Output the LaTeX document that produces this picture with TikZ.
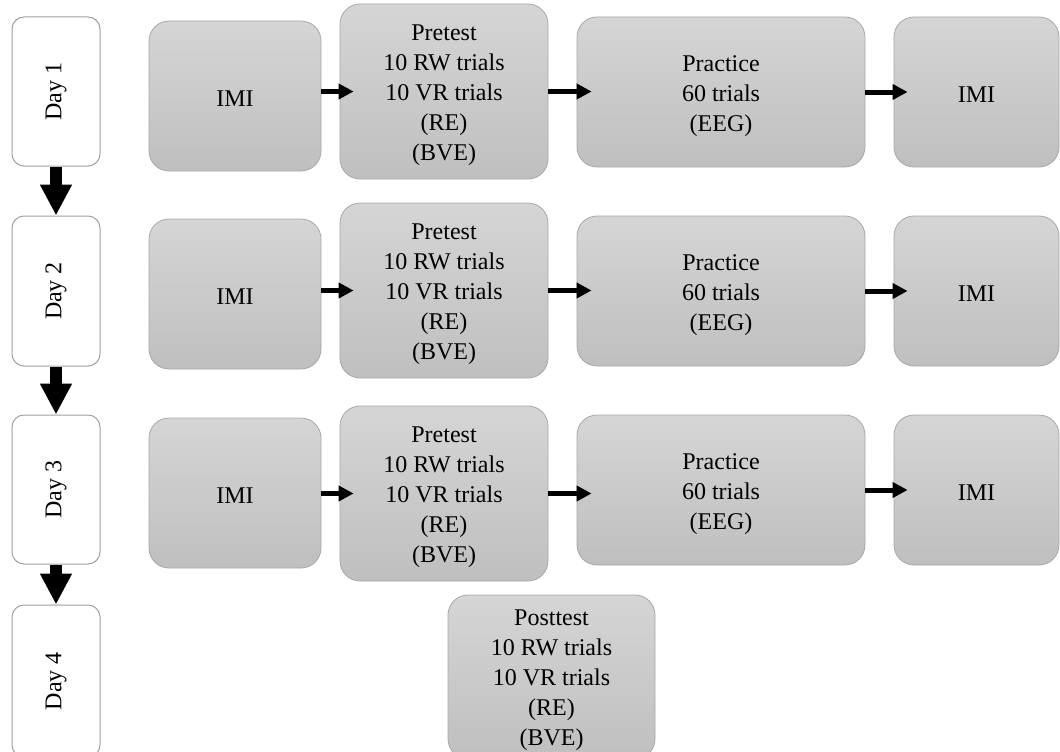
\documentclass[tikz,border=0pt]{standalone}
\usepackage{fontspec}
\setmainfont{Liberation Serif}
\usetikzlibrary{arrows.meta,calc}
\definecolor{boxtop}{RGB}{213,213,213}
\definecolor{boxbot}{RGB}{191,191,191}
\definecolor{boxedge}{RGB}{168,168,168}
\definecolor{dayedge}{RGB}{160,160,160}
\newcommand{\myup}[1]{\rule{0pt}{#1}}
\begin{document}
\begin{tikzpicture}[x=1pt,y=-1pt,
  every node/.style={font=\fontsize{24}{30}\selectfont, align=center, text=black, inner sep=0pt},
  daybox/.style={draw=dayedge, line width=1pt, fill=white, rounded corners=12pt, minimum width=88pt},
  stepbox/.style={draw=boxedge, line width=0.8pt, top color=boxtop, bottom color=boxbot, rounded corners=20pt},
  bigarrow/.style={line width=12pt, -{Triangle[width=30pt,length=31pt]}},
  smallarrow/.style={line width=5pt, -{Triangle[width=15pt,length=15pt]}}
]
\useasboundingbox (0,0) rectangle (1060,752);
\clip (0,0) rectangle (1060,752);

% Day column
\node[daybox, minimum height=149pt] (day1) at (56,91.5) {\rotatebox{90}{Day 1}};
\node[daybox, minimum height=150pt] (day2) at (56,291) {\rotatebox{90}{Day 2}};
\node[daybox, minimum height=149pt] (day3) at (56,489.5) {\rotatebox{90}{Day 3}};
\node[daybox, minimum height=152pt] (day4) at (56,681) {\rotatebox{90}{Day 4}};

\draw[bigarrow] (day1.south) -- (day2.north);
\draw[bigarrow] (day2.south) -- (day3.north);
\draw[bigarrow] (day3.south) -- (day4.north);

% Rows
\foreach \r/\yi/\yp/\yq in {1/96/91.5/92, 2/294/290.5/291, 3/493/493.5/490}{
  \node[stepbox, minimum width=172pt, minimum height=150pt] (imi\r) at (235,\yi) {\myup{20pt}IMI};
  \node[stepbox, minimum width=208pt, minimum height=175pt] (pre\r) at (444,\yp)
    {\myup{23pt}Pretest\\10 RW trials\\10 VR trials\\(RE)\\(BVE)};
  \node[stepbox, minimum width=288pt, minimum height=150pt] (prac\r) at (721,\yq)
    {\myup{24pt}Practice\\60 trials\\(EEG)};
  \node[stepbox, minimum width=165pt, minimum height=150pt] (imir\r) at (976.5,\yq) {\myup{20pt}IMI};
  \draw[smallarrow] (imi\r.east |- pre\r.west) -- ([xshift=14pt]pre\r.west);
  \draw[smallarrow] (pre\r.east) -- ([xshift=15pt]pre\r.east -| prac\r.west);
  \draw[smallarrow] (prac\r.east |- imir\r.west) -- ([xshift=14pt]imir\r.west);
}

% Posttest
\node[stepbox, minimum width=207pt, minimum height=164pt] (post) at (551.5,677)
  {\myup{22pt}Posttest\\10 RW trials\\10 VR trials\\(RE)\\(BVE)};
\end{tikzpicture}
\end{document}
